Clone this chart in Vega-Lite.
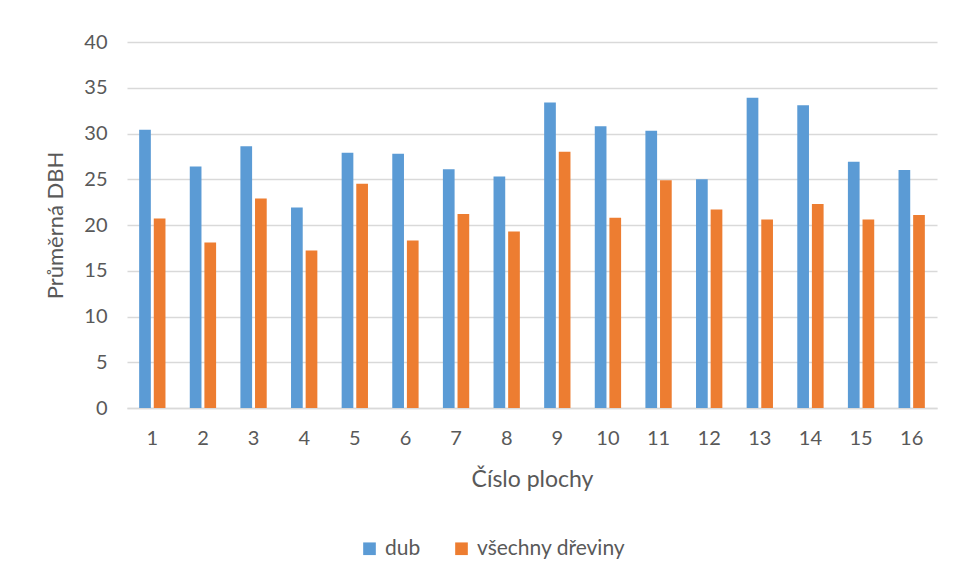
{
  "$schema": "https://vega.github.io/schema/vega-lite/v6.json",
  "autosize": "none",
  "padding": {"left": 127, "top": 42, "right": 22, "bottom": 173},
  "width": 810,
  "height": 366,
  "background": "white",
  "data": {
    "values": [
      {"plocha": 1, "serie": "dub", "dbh": 30.4}, {"plocha": 1, "serie": "všechny dřeviny", "dbh": 20.7},
      {"plocha": 2, "serie": "dub", "dbh": 26.4}, {"plocha": 2, "serie": "všechny dřeviny", "dbh": 18.1},
      {"plocha": 3, "serie": "dub", "dbh": 28.6}, {"plocha": 3, "serie": "všechny dřeviny", "dbh": 22.9},
      {"plocha": 4, "serie": "dub", "dbh": 21.9}, {"plocha": 4, "serie": "všechny dřeviny", "dbh": 17.2},
      {"plocha": 5, "serie": "dub", "dbh": 27.9}, {"plocha": 5, "serie": "všechny dřeviny", "dbh": 24.5},
      {"plocha": 6, "serie": "dub", "dbh": 27.8}, {"plocha": 6, "serie": "všechny dřeviny", "dbh": 18.3},
      {"plocha": 7, "serie": "dub", "dbh": 26.1}, {"plocha": 7, "serie": "všechny dřeviny", "dbh": 21.2},
      {"plocha": 8, "serie": "dub", "dbh": 25.3}, {"plocha": 8, "serie": "všechny dřeviny", "dbh": 19.3},
      {"plocha": 9, "serie": "dub", "dbh": 33.4}, {"plocha": 9, "serie": "všechny dřeviny", "dbh": 28.0},
      {"plocha": 10, "serie": "dub", "dbh": 30.8}, {"plocha": 10, "serie": "všechny dřeviny", "dbh": 20.8},
      {"plocha": 11, "serie": "dub", "dbh": 30.3}, {"plocha": 11, "serie": "všechny dřeviny", "dbh": 24.9},
      {"plocha": 12, "serie": "dub", "dbh": 25.0}, {"plocha": 12, "serie": "všechny dřeviny", "dbh": 21.7},
      {"plocha": 13, "serie": "dub", "dbh": 33.9}, {"plocha": 13, "serie": "všechny dřeviny", "dbh": 20.6},
      {"plocha": 14, "serie": "dub", "dbh": 33.1}, {"plocha": 14, "serie": "všechny dřeviny", "dbh": 22.3},
      {"plocha": 15, "serie": "dub", "dbh": 26.9}, {"plocha": 15, "serie": "všechny dřeviny", "dbh": 20.6},
      {"plocha": 16, "serie": "dub", "dbh": 26.0}, {"plocha": 16, "serie": "všechny dřeviny", "dbh": 21.1}
    ]
  },
  "config": {
    "font": "Lato",
    "view": {"stroke": null},
    "axis": {
      "labelFont": "Lato", "titleFont": "Lato",
      "labelColor": "#595959", "titleColor": "#595959",
      "titleFontWeight": "normal"
    }
  },
  "mark": {"type": "bar"},
  "encoding": {
    "x": {
      "field": "plocha", "type": "ordinal",
      "scale": {"paddingInner": 0.48, "paddingOuter": 0.24},
      "axis": {
        "title": "Číslo plochy", "labelAngle": 0, "labelFontSize": 20,
        "titleFontSize": 23, "ticks": false, "domain": true,
        "domainColor": "#d9d9d9", "domainWidth": 1.5,
        "labelPadding": 20, "titlePadding": 20
      }
    },
    "xOffset": {"field": "serie", "type": "nominal", "scale": {"paddingInner": 0.2}},
    "y": {
      "field": "dbh", "type": "quantitative",
      "scale": {"domain": [0, 40]},
      "axis": {
        "title": "Průměrná DBH", "values": [0, 5, 10, 15, 20, 25, 30, 35, 40],
        "labelFontSize": 20, "titleFontSize": 22, "ticks": false, "domain": false,
        "gridColor": "#d9d9d9", "gridWidth": 1.5, "labelPadding": 20, "titlePadding": 16
      }
    },
    "color": {
      "field": "serie", "type": "nominal",
      "scale": {"domain": ["dub", "všechny dřeviny"], "range": ["#5B9BD5", "#ED7D31"]},
      "legend": {
        "title": null, "orient": "none", "direction": "horizontal",
        "legendX": 232, "legendY": 496,
        "symbolType": "square", "symbolSize": 160, "symbolStrokeWidth": 0,
        "labelFontSize": 21, "labelFont": "Lato", "labelColor": "#595959",
        "columnPadding": 30, "labelOffset": 5
      }
    }
  }
}
